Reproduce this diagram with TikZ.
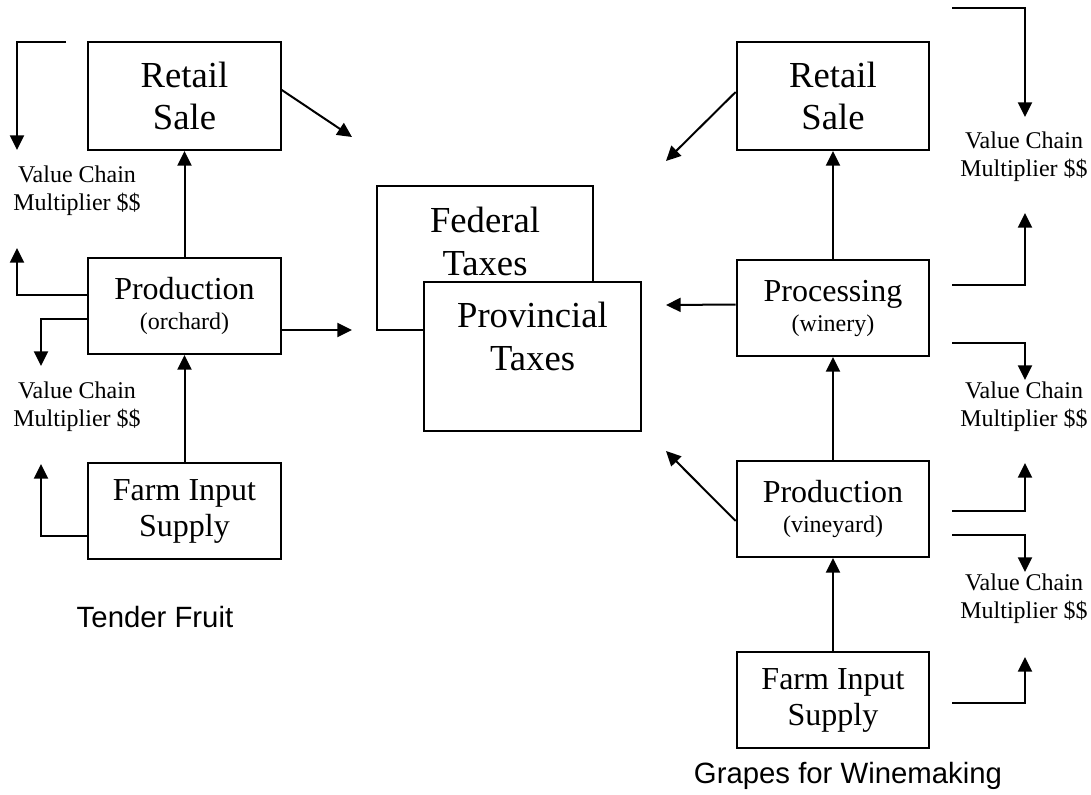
\documentclass[tikz,border=0pt]{standalone}
\usepackage{fontspec}
\setmainfont{Liberation Serif}
\setsansfont{Liberation Sans}
\usetikzlibrary{positioning,arrows.meta}

\begin{document}
\begin{tikzpicture}[x=0.75pt,y=-0.75pt,
  stage/.style={draw=black,rectangle,line width=1.5pt,fill=white,align=center,inner sep=0pt,minimum width=144.5pt,minimum height=72pt,font=\fontsize{24}{27}\selectfont},
  salebox/.style={stage,minimum height=81pt,font=\fontsize{27.5}{31}\selectfont},
  plantbox/.style={stage,font=\fontsize{24}{22.5}\selectfont},
  taxbox/.style={draw=black,rectangle,line width=1.5pt,fill=white,inner sep=0pt},
  taxtext/.style={align=center,inner sep=0pt,font=\fontsize{27.5}{32.25}\selectfont},
  vcnote/.style={align=center,inner sep=0pt,font=\fontsize{18}{21}\selectfont},
  caption/.style={anchor=base,inner sep=0pt,font=\sffamily\fontsize{22}{26}\selectfont},
  flow/.style={-{Triangle[length=11pt,width=10.5pt]},draw=black,line width=1.5pt}]
  \useasboundingbox (0,0) rectangle (1091,794);

  % tender fruit chain
  \node[salebox] at (184.5,96) (lretail) {Retail\\Sale};
  \node[plantbox,below=79.5pt of lretail] (lprod) {Production\\{\fontsize{18}{22.5}\selectfont (orchard)}};
  \node[stage,below=80.25pt of lprod] (lfarm) {Farm Input\\Supply};
  \node[caption] at (155,627) (lcap) {Tender Fruit};
  \node[vcnote] at (77,191) (lvcup) {Value Chain\\Multiplier \$\$};
  \node[vcnote] at (77,407) (lvcdown) {Value Chain\\Multiplier \$\$};

  % taxes
  \node[taxbox,minimum width=162pt,minimum height=108pt] at (485,258) (fed) {};
  \node[taxtext] at (485,241) (fedtext) {Federal\\Taxes};
  \node[taxbox,minimum width=162.75pt,minimum height=111.75pt] at (532.5,356.5) (prov) {};
  \node[taxtext] at (532.5,336) (provtext) {Provincial\\Taxes};

  % grape chain
  \node[salebox] at (833,96) (rretail) {Retail\\Sale};
  \node[plantbox,below=81pt of rretail] (rproc) {Processing\\{\fontsize{18}{22.5}\selectfont (winery)}};
  \node[plantbox,below=77.25pt of rproc] (rprod) {Production\\{\fontsize{18}{22.5}\selectfont (vineyard)}};
  \node[stage,below=69.75pt of rprod] (rfarm) {Farm Input\\Supply};
  \node[caption] at (848,783) (rcap) {Grapes for Winemaking};
  \node[vcnote] at (1024,157) (rvcA) {Value Chain\\Multiplier \$\$};
  \node[vcnote] at (1024,407) (rvcB) {Value Chain\\Multiplier \$\$};
  \node[vcnote] at (1024,599) (rvcC) {Value Chain\\Multiplier \$\$};

  % free ends
  \coordinate (lfbA) at (66,42);
  \coordinate (lfbAend) at (17,150);
  \coordinate (lfbBend) at (17,248);
  \coordinate (lfbCend) at (41,366);
  \coordinate (lfbDend) at (41,464);
  \coordinate (ltaxA) at (352,137);
  \coordinate (ltaxB) at (352,330);
  \coordinate (rtaxA) at (666,161);
  \coordinate (rtaxB) at (666,305);
  \coordinate (rtaxC) at (666,451);
  \coordinate (rfbA) at (952,8);    \coordinate (rfbAend) at (1025,117);
  \coordinate (rfbB) at (952,285);  \coordinate (rfbBend) at (1025,213);
  \coordinate (rfbC) at (952,343);  \coordinate (rfbCend) at (1025,380);
  \coordinate (rfbD) at (952,511);  \coordinate (rfbDend) at (1025,463);
  \coordinate (rfbE) at (952,535);  \coordinate (rfbEend) at (1025,572);
  \coordinate (rfbF) at (952,703);  \coordinate (rfbFend) at (1025,657);

  % tender fruit flows
  \draw[flow] (lprod) -- (lretail);
  \draw[flow] (lfarm) -- (lprod);
  \draw[flow] (lfbA) -| (lfbAend);
  \draw[flow] ([yshift=8.25pt]lprod.west) -| (lfbBend);
  \draw[flow] ([yshift=-9.75pt]lprod.west) -| (lfbCend);
  \draw[flow] ([yshift=-18.75pt]lfarm.west) -| (lfbDend);
  \draw[flow] ([yshift=4.5pt]lretail.east) -- (ltaxA);
  \draw[flow] ([yshift=-18pt]lprod.east) -- (ltaxB);

  % grape flows
  \draw[flow] (rproc) -- (rretail);
  \draw[flow] (rprod) -- (rproc);
  \draw[flow] (rfarm) -- (rprod);
  \draw[flow] ([yshift=3pt]rretail.west) -- (rtaxA);
  \draw[flow] ([yshift=2.625pt]rproc.west) -- (rtaxB);
  \draw[flow] ([yshift=-9pt]rprod.west) -- (rtaxC);
  \draw[flow] (rfbA) -| (rfbAend);
  \draw[flow] (rfbB) -| (rfbBend);
  \draw[flow] (rfbC) -| (rfbCend);
  \draw[flow] (rfbD) -| (rfbDend);
  \draw[flow] (rfbE) -| (rfbEend);
  \draw[flow] (rfbF) -| (rfbFend);
\end{tikzpicture}
\end{document}
